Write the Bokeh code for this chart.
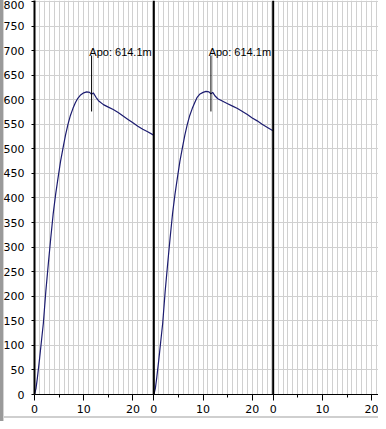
from bokeh.plotting import figure
from bokeh.models import Range1d, FixedTicker, Span, CustomJSTickFormatter, InlineStyleSheet
from bokeh.core.properties import value
from bokeh.embed import file_html
from bokeh.resources import INLINE

# ---- data ----
flight_time = [0, 0.3, 0.6, 1.0, 1.4, 1.8, 2.3, 2.8, 3.3, 3.8, 4.3, 4.8, 5.3, 5.8,
               6.3, 6.8, 7.3, 7.8, 8.3, 8.8, 9.3, 10.0, 10.6, 11.2, 11.6, 11.95,
               12.5, 13.0, 14, 15, 16, 17, 18, 19, 20, 21, 22, 23, 24.2]
flight1_alt = [0, 12, 35, 70, 108, 145, 210, 265, 318, 368, 408, 442, 475, 502,
               528, 550, 568, 582, 594, 603, 609, 614, 616, 615, 611, 614,
               605, 598, 590, 585, 580, 574, 567, 560, 553, 546, 540, 535, 528]
flight2_alt = [0, 12, 35, 70, 108, 145, 210, 265, 318, 368, 408, 442, 475, 502,
               528, 550, 568, 582, 594, 605, 611, 615, 617, 616, 612, 615,
               607, 602, 597, 592, 587, 582, 576, 570, 563, 557, 550, 544, 537]
apogee_time = [11.6, 11.6]
apogee_alt = [614.1, 614.1]
apogee_labels = ["Apo: 614.1m", "Apo: 614.1m"]
panel_major_ticks = [0, 10, 20]
panel_minor_ticks = [5, 15]
y_ticks = [0, 50, 100, 150, 200, 250, 300, 350, 400, 450, 500, 550, 600, 650, 700, 750, 800]

# ---- layout constants ----
W, H = 378, 421
PANEL_W = 24.25
N_PANELS = 3
X_END = 69.9
Y_END = 802
GRID_COLOR = "#d0d0d0"
LINE_COLOR = "#1c1c70"

flights = [flight1_alt, flight2_alt]

p = figure(width=W, height=H, output_backend="svg", toolbar_location=None,
           x_range=Range1d(0, X_END), y_range=Range1d(0, Y_END),
           min_border_left=34, min_border_right=0, min_border_top=0,
           min_border_bottom=27)
p.outline_line_color = None
p.background_fill_color = "white"
p.border_fill_color = None

# window-frame decorations (grey bar at left, light line at bottom) via host background
p.stylesheets = [InlineStyleSheet(css=(
    ":host { background: "
    "linear-gradient(to right, #9a9a9a 0px, #9a9a9a 2.5px, #d4d4d4 2.5px, #d4d4d4 4px, transparent 4px), "
    "linear-gradient(to bottom, transparent 0px, transparent 416.5px, #cfcfcf 416.5px, #cfcfcf 418.5px, transparent 418.5px) "
    "white; }"
))]

# x axis: repeated 0..20 per panel
major = [k * PANEL_W + t for k in range(N_PANELS) for t in panel_major_ticks]
minor = [k * PANEL_W + t for k in range(N_PANELS) for t in panel_minor_ticks]
xax = p.xaxis[0]
xax.ticker = FixedTicker(ticks=major, minor_ticks=minor)
xax.formatter = CustomJSTickFormatter(args=dict(w=PANEL_W), code="""
    const r = tick - w * Math.floor((tick + 1e-6) / w);
    return String(Math.round(r));
""")
xax.axis_line_color = "black"
xax.axis_line_width = 1
xax.major_tick_line_color = "black"
xax.minor_tick_line_color = "black"
xax.major_tick_out = 6
xax.major_tick_in = 0
xax.minor_tick_out = 3
xax.minor_tick_in = 0
xax.major_label_standoff = 4
xax.major_label_text_font = "DejaVu Sans"
xax.major_label_text_font_size = "11px"
xax.major_label_text_color = "black"

yax = p.yaxis[0]
yax.ticker = FixedTicker(ticks=y_ticks)
yax.axis_line_color = "black"
yax.axis_line_width = 2
yax.major_tick_line_color = "black"
yax.major_tick_out = 3
yax.major_tick_in = 0
yax.minor_tick_line_color = None
yax.major_label_standoff = 7
yax.major_label_text_font = "DejaVu Sans"
yax.major_label_text_font_size = "11px"
yax.major_label_text_color = "black"

# grids
grid_x = [k * PANEL_W + i for k in range(N_PANELS) for i in range(25)
          if k * PANEL_W + i < X_END]
p.xgrid.ticker = FixedTicker(ticks=grid_x)
p.xgrid.grid_line_color = GRID_COLOR
p.ygrid.ticker = FixedTicker(ticks=y_ticks)
p.ygrid.grid_line_color = GRID_COLOR

# panel separators
for k in range(1, N_PANELS):
    p.add_layout(Span(location=k * PANEL_W, dimension="height",
                      line_color="black", line_width=2))

# flights and apogee annotations
for k, alt in enumerate(flights):
    off = k * PANEL_W
    p.line([off + t for t in flight_time], alt, line_color=LINE_COLOR, line_width=1.2)
    ax = off + apogee_time[k]
    ay = apogee_alt[k]
    p.segment(x0=[ax], y0=[ay - 38], x1=[ax], y1=[ay + 76],
              line_color="black", line_width=1)
    p.text(x=[ax - 0.46], y=[ay + 84], text=[apogee_labels[k]],
           text_font=value("Liberation Sans"), text_font_size="11px",
           text_baseline="alphabetic", text_align="left", text_color="black")

open("out.html", "w").write(file_html(p, INLINE))
